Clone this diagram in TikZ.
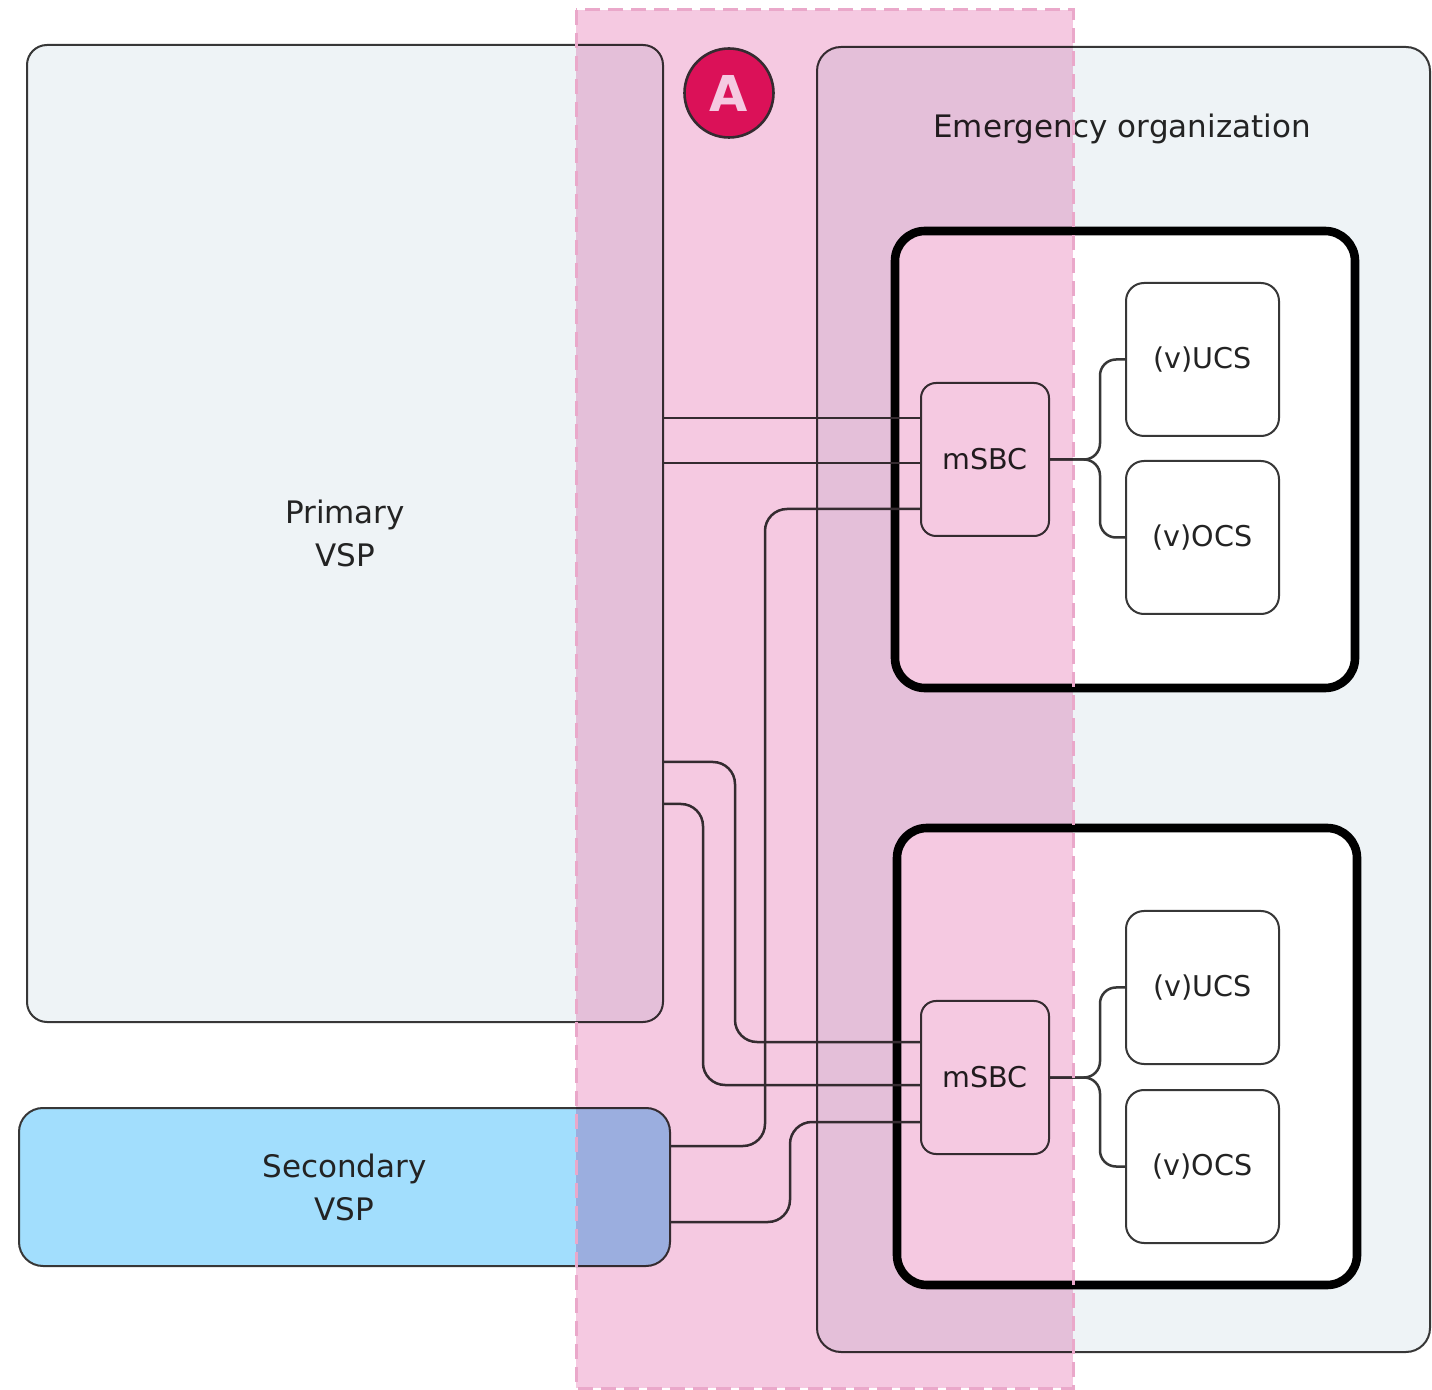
\documentclass[tikz,border=0pt]{standalone}
\usepackage{fontspec}
\setmainfont{DejaVu Sans}
\definecolor{vspgray}{RGB}{238,243,246}
\definecolor{secblue}{RGB}{162,222,253}
\definecolor{linegray}{RGB}{55,55,55}
\definecolor{textgray}{RGB}{35,35,35}
\definecolor{bandpink}{RGB}{245,201,225}
\definecolor{banddash}{RGB}{234,168,202}
\definecolor{badge}{RGB}{228,22,100}
\begin{document}
\begin{tikzpicture}[x=0.5pt,y=-0.5pt,
  panel/.style={draw=linegray, line width=1pt, rounded corners=10pt, fill=vspgray, inner sep=0pt},
  thickbox/.style={draw=black, line width=4.3pt, rounded corners=15pt, fill=white, inner sep=0pt},
  smallbox/.style={draw=linegray, line width=1pt, rounded corners=9pt, fill=white, inner sep=0pt,
    font=\fontsize{14.3}{17}\selectfont, text=textgray},
  conn/.style={draw=linegray, line width=1.25pt, rounded corners=11pt},
  fan/.style={draw=linegray, line width=1.25pt, rounded corners=8pt},
  biglabel/.style={font=\fontsize{15.5}{21.5}\selectfont, text=textgray, align=center}]
\useasboundingbox (0,0) rectangle (1432,1390);

% panels
\node[panel, minimum width=318pt, minimum height=488.5pt, biglabel] (prim) at (345,533.5) {Primary\\VSP};
\node[panel, fill=secblue, rounded corners=12pt, minimum width=325.5pt, minimum height=79pt, biglabel] (sec) at (344.5,1187) {Secondary\\VSP};
\node[panel, rounded corners=12pt, minimum width=306.5pt, minimum height=652.5pt] (emerg) at (1123.5,699.5) {};
\node[biglabel] (emlabel) at (1122,129) {Emergency organization};

% inner thick boxes
\node[thickbox, minimum width=230pt, minimum height=228.5pt] (grp1) at (1125,459.5) {};
\node[thickbox, minimum width=230pt, minimum height=228.5pt] (grp2) at (1127,1056.5) {};

% small boxes
\node[smallbox, rounded corners=7.5pt, minimum width=64pt, minimum height=76.5pt] (msbc1) at (985,459.5) {mSBC};
\node[smallbox, rounded corners=7.5pt, minimum width=64pt, minimum height=76.5pt] (msbc2) at (985,1077.5) {mSBC};
\node[smallbox, minimum width=76.5pt, minimum height=76.5pt] (ucs1) at (1202.5,359.5) {(v)UCS};
\node[smallbox, minimum width=76.5pt, minimum height=76.5pt] (ocs1) at (1202.5,537.5) {(v)OCS};
\node[smallbox, minimum width=76.5pt, minimum height=76.5pt] (ucs2) at (1202.5,987.5) {(v)UCS};
\node[smallbox, minimum width=76.5pt, minimum height=76.5pt] (ocs2) at (1202.5,1166.5) {(v)OCS};

% helper coordinates
\coordinate (ra) at (0,418);
\coordinate (rb) at (0,463);
\coordinate (s1) at (0,1146);
\coordinate (ka) at (765,509);
\coordinate (pb) at (0,762);
\coordinate (kb) at (735,1042);
\coordinate (pc) at (0,804);
\coordinate (kc) at (703,1085);
\coordinate (sd) at (0,1222);
\coordinate (kd) at (790,1122);
\coordinate (xf) at (1100,0);

% connectors to upper mSBC
\draw[conn] (prim.east |- ra) -- (msbc1.west |- ra);
\draw[conn] (prim.east |- rb) -- (msbc1.west |- rb);
\draw[conn] (sec.east |- s1) -| (ka) -- (msbc1.west |- ka);
% connectors to lower mSBC
\draw[conn] (prim.east |- pb) -| (kb) -- (msbc2.west |- kb);
\draw[conn] (prim.east |- pc) -| (kc) -- (msbc2.west |- kc);
\draw[conn] (sec.east |- sd) -| (kd) -- (msbc2.west |- kd);

% fan-out
\draw[fan] (msbc1.east) -- (msbc1.east -| xf) |- (ucs1.west);
\draw[fan] (msbc1.east) -- (msbc1.east -| xf) |- (ocs1.west);
\draw[fan] (msbc2.east) -- (msbc2.east -| xf) |- (ucs2.west);
\draw[fan] (msbc2.east) -- (msbc2.east -| xf) |- (ocs2.west);

% badge
\node[circle, fill=badge, draw=linegray, line width=1.3pt, minimum size=44.5pt, inner sep=0pt,
  text=white, font=\fontsize{24.7}{28}\selectfont\bfseries] (badgeA) at (729,93) {A};

% band A (multiplied over everything)
\begin{scope}[blend mode=multiply]
  \fill[bandpink] (576,10) rectangle (1073,1388);
\end{scope}
\draw[banddash, line width=1.5pt, dash pattern=on 7.5pt off 4pt] (576,10) rectangle (1073,1388);
\end{tikzpicture}
\end{document}
